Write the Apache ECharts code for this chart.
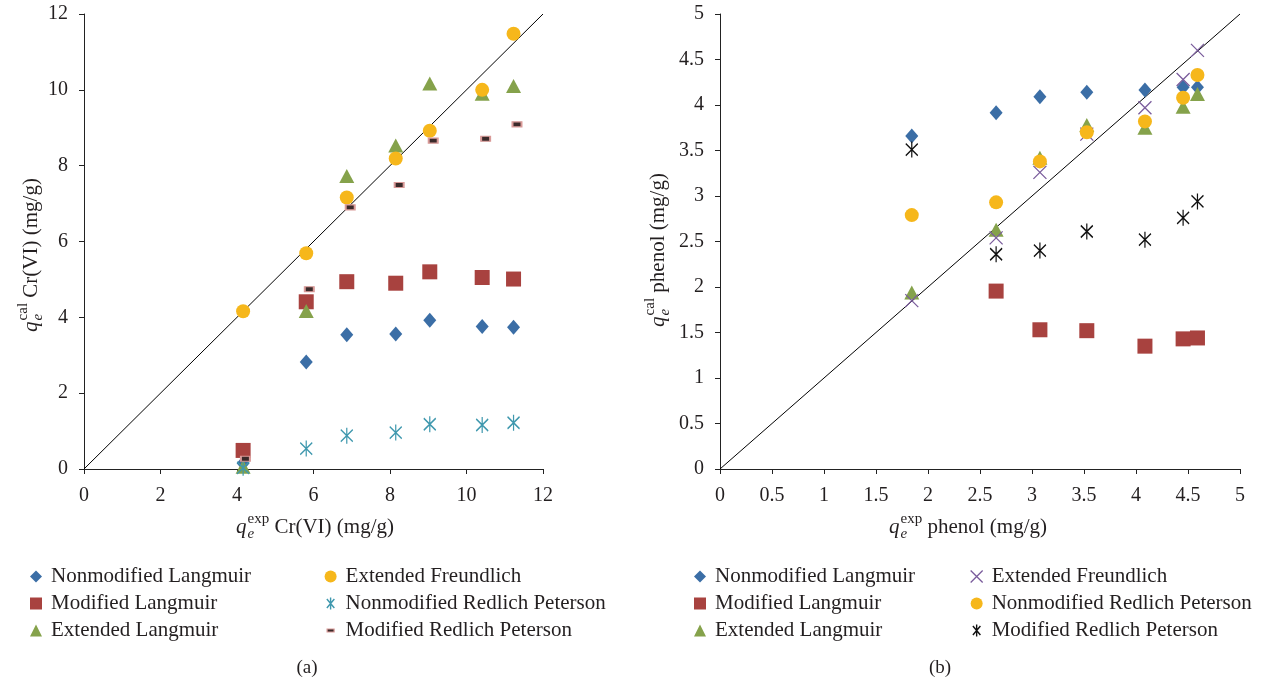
<!DOCTYPE html>
<html>
<head>
<meta charset="utf-8">
<script src="https://cdn.jsdelivr.net/npm/echarts@6/dist/echarts.min.js"></script>
<style>
  html, body { margin: 0; padding: 0; background: #ffffff; }
  #chart { width: 1264px; height: 682px; }
</style>
</head>
<body>
<div id="chart"></div>
<script>
// ---- Panel (a): Cr(VI), calculated vs experimental uptake (mg/g) ----
const crTicks = [0, 2, 4, 6, 8, 10, 12];
const crExp = [4.16, 5.81, 6.87, 8.15, 9.04, 10.41, 11.23];
const crNonmodLangmuir = [0.15, 2.82, 3.54, 3.56, 3.92, 3.76, 3.74];
const crModLangmuir = [0.49, 4.41, 4.94, 4.90, 5.20, 5.05, 5.01];
const crExtLangmuir = [0.06, 4.17, 7.73, 8.53, 10.17, 9.90, 10.10];
const crExtFreundlich = [4.16, 5.69, 7.16, 8.19, 8.92, 10.00, 11.48];
const crNonmodRP = [0.03, 0.54, 0.88, 0.96, 1.18, 1.16, 1.22];
const crModRPExp = [4.22, 5.89, 6.96, 8.24, 9.13, 10.50, 11.32];
const crModRP = [0.27, 4.74, 6.90, 7.49, 8.66, 8.71, 9.09];

// ---- Panel (b): phenol ----
const phTicks = [0, 0.5, 1, 1.5, 2, 2.5, 3, 3.5, 4, 4.5, 5];
const phExp = [1.844, 2.655, 3.076, 3.527, 4.086, 4.453, 4.591];
const phNonmodLangmuir = [3.66, 3.915, 4.09, 4.14, 4.165, 4.195, 4.195];
const phModLangmuir = [null, 1.955, 1.53, 1.52, 1.35, 1.43, 1.44];
const phExtLangmuir = [1.94, 2.63, 3.42, 3.78, 3.75, 3.98, 4.12];
const phExtFreundlich = [1.85, 2.54, 3.26, 3.68, 3.97, 4.28, 4.60];
const phNonmodRP = [2.79, 2.93, 3.38, 3.70, 3.82, 4.08, 4.33];
const phModRP = [3.51, 2.36, 2.40, 2.61, 2.52, 2.76, 2.94];

const seriesNames = [
  'Nonmodified Langmuir', 'Modified Langmuir', 'Extended Langmuir',
  'Extended Freundlich', 'Nonmodified Redlich Peterson', 'Modified Redlich Peterson'
];

const SERIF = '"Liberation Serif", "Times New Roman", serif';
const INK = '#231f20';

// marker styles
const ASTERISK = 'path://M1 2L11 14M11 2L1 14M6 0L6 16';
const CROSS = 'path://M0 0L10 10M10 0L0 10';
const DASH_ICON = 'path://M0 0M12 12M2.5 4.5h7v3h-7z';
const MARK = {
  diamond:  { symbol: 'diamond', symbolSize: [13, 15], itemStyle: { color: '#3b6ea6' },
              icon: 'diamond', legendStyle: { color: '#3b6ea6', borderWidth: 0 } },
  square:   { symbol: 'rect', symbolSize: 15, itemStyle: { color: '#a8423f' },
              icon: 'rect', legendStyle: { color: '#a8423f', borderWidth: 0 } },
  triangle: { symbol: 'triangle', symbolSize: [15, 14], itemStyle: { color: '#85a24b' },
              icon: 'triangle', legendStyle: { color: '#85a24b', borderWidth: 0 } },
  circle:   { symbol: 'circle', symbolSize: 14, itemStyle: { color: '#f6b71b' },
              icon: 'circle', legendStyle: { color: '#f6b71b', borderColor: '#f6b71b', borderWidth: 0 } },
  tealStar: { symbol: ASTERISK, symbolSize: [12, 16],
              itemStyle: { color: 'transparent', borderColor: '#3f98ae', borderWidth: 1.4 },
              icon: ASTERISK, legendStyle: { color: 'transparent', borderColor: '#3f98ae', borderWidth: 1.4 } },
  blackStar:{ symbol: ASTERISK, symbolSize: [12, 16],
              itemStyle: { color: 'transparent', borderColor: '#111111', borderWidth: 1.4 },
              icon: ASTERISK, legendStyle: { color: 'transparent', borderColor: '#111111', borderWidth: 1.4 } },
  cross:    { symbol: CROSS, symbolSize: 13,
              itemStyle: { color: 'transparent', borderColor: '#7a5c9c', borderWidth: 1.3 },
              icon: CROSS, legendStyle: { color: 'transparent', borderColor: '#7a5c9c', borderWidth: 1.3 } },
  dash:     { symbol: 'rect', symbolSize: [9, 5],
              itemStyle: { color: '#3a2a2a', borderColor: '#d99a98', borderWidth: 1.5 },
              icon: DASH_ICON, legendStyle: { color: '#3a2a2a', borderColor: '#d99a98', borderWidth: 1.2 } }
};

const crMarks = ['diamond', 'square', 'triangle', 'circle', 'tealStar', 'dash'];
const phMarks = ['diamond', 'square', 'triangle', 'cross', 'circle', 'blackStar'];

function pairs(xs, ys) {
  const out = [];
  xs.forEach((x, i) => { if (ys[i] != null) out.push([x, ys[i]]); });
  return out;
}

function scatter(name, idx, data, markKey) {
  const m = MARK[markKey];
  return {
    type: 'scatter', name: name, xAxisIndex: idx, yAxisIndex: idx,
    data: data, symbol: m.symbol, symbolSize: m.symbolSize,
    itemStyle: Object.assign({ opacity: 1 }, m.itemStyle),
    emphasis: { disabled: true }, z: 3
  };
}

function identityLine(idx, maxV) {
  return {
    type: 'line', xAxisIndex: idx, yAxisIndex: idx, data: [[0, 0], [maxV, maxV]],
    symbol: 'none', silent: true, z: 2,
    lineStyle: { color: '#000000', width: 1 }
  };
}

function valueAxis(idx, ticks, margin) {
  return {
    type: 'value', gridIndex: idx,
    min: ticks[0], max: ticks[ticks.length - 1], interval: ticks[1] - ticks[0],
    axisLine: { show: true, lineStyle: { color: '#222222', width: 1 } },
    axisTick: { show: true, length: 5, lineStyle: { color: '#222222' } },
    splitLine: { show: false },
    axisLabel: { color: INK, fontFamily: SERIF, fontSize: 20, margin: margin }
  };
}

function legendBlock(names, marks, left, top) {
  return {
    orient: 'vertical', left: left, top: top, itemGap: 6, padding: 0,
    itemWidth: 12, itemHeight: 12, selectedMode: false,
    textStyle: { color: INK, fontFamily: SERIF, fontSize: 21, padding: [0, 0, 0, 4] },
    data: names.map((n, i) => ({ name: n, icon: MARK[marks[i]].icon, itemStyle: MARK[marks[i]].legendStyle }))
  };
}

// Axis title with a stacked super/subscript after an italic q
const measureCtx = document.createElement('canvas').getContext('2d');
function textWidth(str, font) { measureCtx.font = font; return measureCtx.measureText(str).width; }
function axisTitle(sup, rest, cx, cy, vertical) {
  const FS = 21, SS = 15;
  const fq = 'italic ' + FS + 'px ' + SERIF;
  const fsup = SS + 'px ' + SERIF;
  const fsub = 'italic ' + SS + 'px ' + SERIF;
  const frest = FS + 'px ' + SERIF;
  const wq = textWidth('q', fq);
  const wStack = Math.max(textWidth(sup, fsup), textWidth('e', fsub));
  const wRest = textWidth(rest, frest);
  const total = wq + 1 + wStack + wRest;
  const x0 = -total / 2;
  const t = (text, x, y, font) => ({
    type: 'text', x: x, y: y,
    style: { text: text, font: font, fill: INK, textAlign: 'left', textVerticalAlign: 'middle', verticalAlign: 'middle' }
  });
  return {
    type: 'group', x: cx, y: cy, rotation: vertical ? Math.PI / 2 : 0,
    children: [
      t('q', x0, 0, fq),
      t(sup, x0 + wq + 1, -8, fsup),
      t('e', x0 + wq + 1, 7, fsub),
      t(rest, x0 + wq + 1 + wStack, 0, frest)
    ]
  };
}

const series = [identityLine(0, 12), identityLine(1, 5)];
const crYs = [crNonmodLangmuir, crModLangmuir, crExtLangmuir, crExtFreundlich, crNonmodRP, crModRP];
const crXs = [crExp, crExp, crExp, crExp, crExp, crModRPExp];
seriesNames.forEach((n, i) => series.push(scatter(n, 0, pairs(crXs[i], crYs[i]), crMarks[i])));
const phYs = [phNonmodLangmuir, phModLangmuir, phExtLangmuir, phExtFreundlich, phNonmodRP, phModRP];
seriesNames.forEach((n, i) => series.push(scatter(n, 1, pairs(phExp, phYs[i]), phMarks[i])));

const option = {
  backgroundColor: '#ffffff',
  animation: false,
  grid: [
    { left: 84, right: 721, top: 14, bottom: 213, containLabel: false },
    { left: 720, right: 24, top: 14, bottom: 213, containLabel: false }
  ],
  xAxis: [valueAxis(0, crTicks, 17), valueAxis(1, phTicks, 17)],
  yAxis: [valueAxis(0, crTicks, 16), valueAxis(1, phTicks, 16)],
  legend: [
    legendBlock(seriesNames.slice(0, 3), crMarks.slice(0, 3), 30, 566),
    legendBlock(seriesNames.slice(3, 6), crMarks.slice(3, 6), 324, 566),
    legendBlock(seriesNames.slice(0, 3), phMarks.slice(0, 3), 694, 566),
    legendBlock(seriesNames.slice(3, 6), phMarks.slice(3, 6), 970, 566)
  ],
  graphic: [
    axisTitle('exp', ' Cr(VI) (mg/g)', 315, 527, false),
    axisTitle('cal', ' Cr(VI) (mg/g)', 31, 255, true),
    axisTitle('exp', ' phenol (mg/g)', 968, 527, false),
    axisTitle('cal', ' phenol (mg/g)', 658, 250, true),
    { type: 'text', x: 307, y: 668, style: { text: '(a)', font: '19px ' + SERIF, fill: INK, textAlign: 'center', textVerticalAlign: 'middle', verticalAlign: 'middle' } },
    { type: 'text', x: 940, y: 668, style: { text: '(b)', font: '19px ' + SERIF, fill: INK, textAlign: 'center', textVerticalAlign: 'middle', verticalAlign: 'middle' } }
  ],
  series: series
};

const chart = echarts.init(document.getElementById('chart'));
chart.setOption(option);
</script>
</body>
</html>
